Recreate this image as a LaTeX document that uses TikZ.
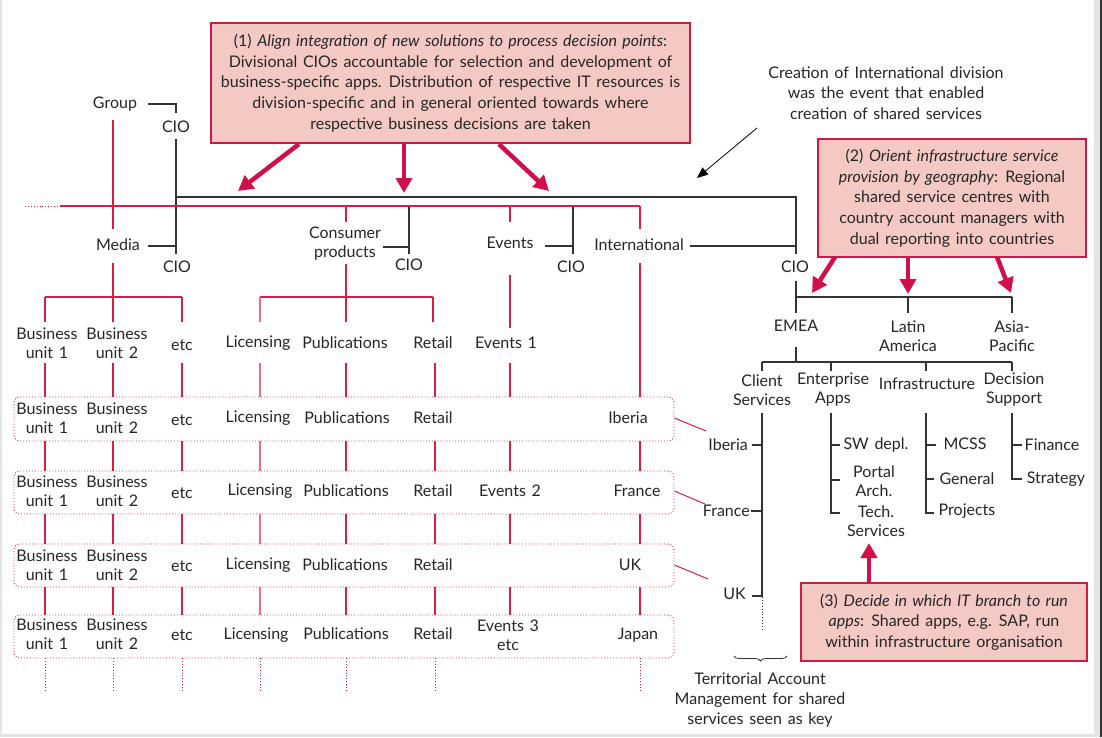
\documentclass[tikz,border=0pt]{standalone}
\usepackage{fontspec}
\setmainfont{Lato}[WordSpace=1.4]
\usetikzlibrary{arrows.meta,decorations.pathreplacing,calc}
\definecolor{rl}{HTML}{D81E45}
\definecolor{rlight}{HTML}{E57088}
\definecolor{bx}{HTML}{F4C9C4}
\definecolor{bd}{HTML}{CF1A48}
\definecolor{ar}{HTML}{D0104A}
\definecolor{tx}{HTML}{262626}
\definecolor{ln}{HTML}{333333}
\definecolor{frm}{HTML}{E4E4E6}
\begin{document}
\begin{tikzpicture}[x=1pt,y=-1pt,
  font=\fontsize{16}{19}\selectfont, text=tx,
  t/.style={inner sep=1pt, align=center},
  rline/.style={draw=rl, line width=1.2pt},
  rlite/.style={draw=rlight, line width=1.6pt},
  bline/.style={draw=ln, line width=1.1pt},
  rdot/.style={draw=rl, line width=0.9pt, dotted},
  rowbox/.style={draw=rl, dotted, line width=0.9pt, rounded corners=6pt},
  callout/.style={draw=bd, fill=bx, line width=2.2pt, align=center, inner sep=0pt,
    font=\fontsize{16}{20.7}\selectfont},
  bigarrow/.style={draw=ar, line width=4.5pt, -{Triangle[length=15pt,width=16pt]}},
  thinarrow/.style={draw=black, line width=0.8pt, -{Triangle[length=11pt,width=9pt]}},
]
\useasboundingbox (0,0) rectangle (1102,737);
% frame
\fill[frm] (0,0) rectangle (1102,737);
\fill[white] (2,0) rectangle (1094,734);
\fill[ln] (1100,0) rectangle (1102,737);

% ---------- callout boxes ----------
\node[callout, minimum width=479pt, minimum height=120pt] (c1) at (450.5,83)
 {(1) \textit{Align integration of new solutions to process decision points}:\\
  Divisional CIOs accountable for selection and development of\\
  business-specific apps. Distribution of respective IT resources is\\
  division-specific and in general oriented towards where\\
  respective business decisions are taken};
\node[callout, minimum width=268pt, minimum height=118pt] (c2) at (952,198)
 {(2) \textit{Orient infrastructure service}\\
  \textit{provision by geography}: Regional\\
  shared service centres with\\
  country account managers with\\
  dual reporting into countries};
\node[callout, minimum width=286pt, minimum height=78pt] (c3) at (944,622)
 {(3) \textit{Decide in which IT branch to run}\\
  \textit{apps}: Shared apps, e.g. SAP, run\\
  within infrastructure organisation};

\node[t, font=\fontsize{16}{20.7}\selectfont] (creation) at (886,93)
 {Creation of International division\\was the event that enabled\\creation of shared services};

% ---------- top-level labels ----------
\node[t] (group) at (115,104) {Group};
\node[t] (gcio) at (176,127) {CIO};
\node[t] (media) at (118,245) {Media};
\node[t] (mcio) at (177,267) {CIO};
\node[t] (cp) at (345,244) {Consumer\\products};
\node[t] (cpcio) at (409,265) {CIO};
\node[t] (ev) at (510,243) {Events};
\node[t] (evcio) at (571,267) {CIO};
\node[t] (intl) at (639,245) {International};
\node[t] (icio) at (795,267) {CIO};

% ---------- black lines (CIO structure) ----------
\coordinate (gA) at (148,104);
\coordinate (gB) at (176,104);
\draw[bline] (gA) -- (gB) -- (176,113);
\draw[bline] (176,139) -- (176,254);
\draw[bline] (148,246) -- (176,246);
\draw[bline] (176,197) -- (796,197) -- (796,254);
\draw[bline] (690,246) -- (796,246);
\draw[bline] (409,206) -- (409,254);
\draw[bline] (383,247) -- (409,247);
\draw[bline] (573,207) -- (573,254);
\draw[bline] (545,246) -- (573,246);

% ---------- red lines (business structure) ----------
\draw[rdot] (25,206) -- (60,206);
\draw[rline] (60,206) -- (640,206);
\draw[rline] (113,120) -- (113,229);
\draw[rline] (113,263) -- (113,297);
\draw[rline] (45,297) -- (182,297);
\foreach \x in {45,113,182} \draw[rline] (\x,297) -- (\x,322);
\draw[rline] (346,206) -- (346,222);
\draw[rline] (346,264) -- (346,297);
\draw[rline] (260,297) -- (433,297);
\draw[rlite] (260,297) -- (260,322);
\foreach \x in {346,433} \draw[rline] (\x,297) -- (\x,322);
\draw[rline] (510,206) -- (510,222);
\draw[rline] (510,275) -- (510,328);
\draw[rline] (640,206) -- (640,229);
\draw[rline] (640,263) -- (640,397);

% row 1 labels
\node[t] (bu1a) at (47,343) {Business\\unit 1};
\node[t] (bu2a) at (117,343) {Business\\unit 2};
\node[t] (etca) at (182,345) {etc};
\node[t] (lica) at (258,343) {Licensing};
\node[t] (puba) at (345,343) {Publications};
\node[t] (reta) at (433,343) {Retail};
\node[t] (ev1) at (506,343) {Events 1};

% row boxes
\node[rowbox, minimum width=660pt, minimum height=44pt] (rowA) at (344,419) {};
\node[rowbox, minimum width=660pt, minimum height=43pt] (rowB) at (344,492.5) {};
\node[rowbox, minimum width=660pt, minimum height=43pt] (rowC) at (344,565.5) {};
\node[rowbox, minimum width=660pt, minimum height=43pt] (rowD) at (344,636.5) {};

% verticals row1 -> rowA
\foreach \x in {45,113,182,346,435,510} \draw[rline] (\x,363) -- (\x,397);
\draw[rlite] (260,363) -- (260,397);
% between boxes
\foreach \ya/\yb in {441/471, 514/544, 587/615}{
  \foreach \x in {45,113,182,346,435,510,640} \draw[rline] (\x,\ya) -- (\x,\yb);
  \draw[rlite] (260,\ya) -- (260,\yb);
}
\foreach \x in {45,113,182,260,346,435,640} \draw[rdot] (\x,658) -- (\x,690);

% row A texts
\node[t] (bu1b) at (47,418) {Business\\unit 1};
\node[t] (bu2b) at (117,418) {Business\\unit 2};
\node[t] (etcb) at (182,420) {etc};
\node[t] (licb) at (258,418) {Licensing};
\node[t] (pubb) at (347,418) {Publications};
\node[t] (retb) at (433,418) {Retail};
\node[t] (iberia) at (628,418) {Iberia};
% row B
\node[t] (bu1c) at (47,491) {Business\\unit 1};
\node[t] (bu2c) at (117,491) {Business\\unit 2};
\node[t] (etcc) at (182,493) {etc};
\node[t] (licc) at (260,491) {Licensing};
\node[t] (pubc) at (346,491) {Publications};
\node[t] (retc) at (433,491) {Retail};
\node[t] (ev2) at (510,491) {Events 2};
\node[t] (france) at (637,491) {France};
% row C
\node[t] (bu1d) at (47,565) {Business\\unit 1};
\node[t] (bu2d) at (117,565) {Business\\unit 2};
\node[t] (etcd) at (182,566) {etc};
\node[t] (licd) at (258,565) {Licensing};
\node[t] (pubd) at (345,565) {Publications};
\node[t] (retd) at (433,565) {Retail};
\node[t] (uk) at (630,565) {UK};
% row D
\node[t] (bu1e) at (47,634) {Business\\unit 1};
\node[t] (bu2e) at (117,634) {Business\\unit 2};
\node[t] (etce) at (182,635) {etc};
\node[t] (lice) at (256,635) {Licensing};
\node[t] (pube) at (346,634) {Publications};
\node[t] (rete) at (433,634) {Retail};
\node[t] (ev3) at (508,635) {Events 3\\etc};
\node[t] (japan) at (638,635) {Japan};

% ---------- shared services tree ----------
\node[t] (emea) at (796,326) {EMEA};
\node[t] (latam) at (908,336) {Latin\\America};
\node[t] (apac) at (1012,336) {Asia-\\Pacific};
\draw[bline] (796,281) -- (796,297);
\draw[bline] (796,297) -- (1012,297);
\foreach \x in {796,908,1012} \draw[bline] (\x,297) -- (\x,313);
\draw[bline] (796,347) -- (796,362);
\draw[bline] (762,362) -- (1012,362);
\foreach \x in {762,831,926,1012} \draw[bline] (\x,362) -- (\x,371);

\node[t] (cs) at (762,390) {Client\\Services};
\node[t] (ea) at (833,390) {Enterprise\\Apps};
\node[t] (inf) at (927,384) {Infrastructure};
\node[t] (ds) at (1014,390) {Decision\\Support};

\node[t, anchor=east] (ibs) at (749,445) {Iberia};
\node[t, anchor=east] (frs) at (751,511) {France};
\node[t, anchor=east] (uks) at (747,594) {UK};
\draw[bline] (762,413) -- (762,597);
\draw[draw=ln, line width=0.9pt, dotted] (762,597) -- (762,630);
\draw[bline] (752,445) -- (762,445);
\draw[bline] (751,511) -- (762,511);
\draw[bline] (752,596) -- (762,596);

\node[t] (sw) at (876,445) {SW depl.};
\node[t] (pa) at (874,481) {Portal\\Arch.};
\node[t] (ts) at (876,521) {Tech.\\Services};
\draw[bline] (831,413) -- (831,513) -- (840,513);
\draw[bline] (831,445) -- (840,445);
\draw[bline] (831,480) -- (840,480);

\node[t] (mcss) at (965,444) {MCSS};
\node[t] (gen) at (967,479) {General};
\node[t] (proj) at (967,511) {Projects};
\draw[bline] (926,413) -- (926,513) -- (934,513);
\draw[bline] (926,445) -- (936,445);
\draw[bline] (926,479) -- (934,479);

\node[t] (fin) at (1052,445) {Finance};
\node[t] (strat) at (1056,479) {Strategy};
\draw[bline] (1012,413) -- (1012,479) -- (1022,479);
\draw[bline] (1012,445) -- (1022,445);

% red side connectors
\draw[draw=rl, line width=1pt] (rowA.east |- iberia) -- (706,431);
\draw[draw=rl, line width=1pt] (rowB.east |- france) -- (705,504);
\draw[draw=rl, line width=1pt] (rowC.east |- uk) -- (708,579);

% brace and note
\draw[draw=ln, line width=0.8pt, decorate, decoration={brace, mirror, amplitude=5pt}] (734,656) -- (787,656);
\node[t, font=\fontsize{16}{20.2}\selectfont] (terr) at (760,700)
 {Territorial Account\\Management for shared\\services seen as key};

% ---------- arrows ----------
\draw[bigarrow] ($(c1.south west)+(89,0)$) -- (238,191);
\draw[bigarrow] (404,143) -- (404,193);
\draw[bigarrow] ($(c1.south west)+(289,0)$) -- (549,191);
\draw[bigarrow] (835,257) -- (812,293);
\draw[bigarrow] (908,257) -- (908,294);
\draw[bigarrow] (997,257) -- (1011,293);
\draw[bigarrow] (c3.north -| 869,0) -- (869,543);
\draw[thinarrow] (757,128) -- (697,178);
\end{tikzpicture}
\end{document}
